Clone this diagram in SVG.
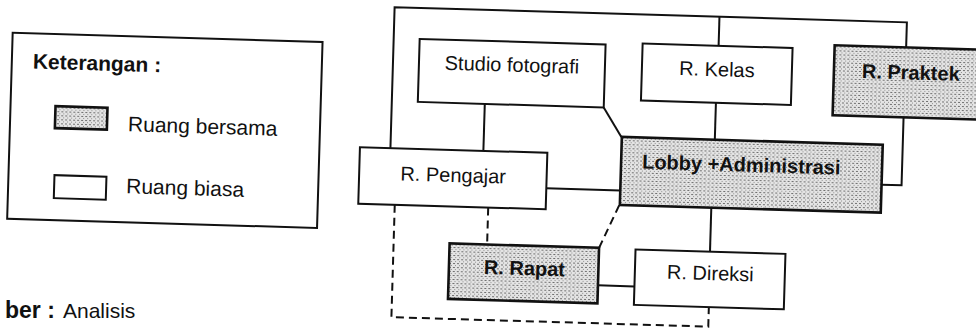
<svg xmlns="http://www.w3.org/2000/svg" width="976" height="329" viewBox="0 0 976 329">
<style>
  .box { fill: #ffffff; stroke: #111111; stroke-width: 2; }
  .shared { fill: url(#stipple); stroke: #111111; stroke-width: 2.6; }
  .line { fill: none; stroke: #111111; stroke-width: 2; }
  .dash { fill: none; stroke: #111111; stroke-width: 2; stroke-dasharray: 8 5; }
  .t { font-family: "Liberation Sans", Arial, sans-serif; font-size: 20px; fill: #111111; }
  .tb { font-family: "Liberation Sans", Arial, sans-serif; font-size: 20px; font-weight: bold; fill: #111111; }
  .lg { font-family: "Liberation Sans", Arial, sans-serif; font-size: 21px; fill: #111111; }
</style>
<defs>
  <pattern id="stipple" width="4" height="4" patternUnits="userSpaceOnUse">
    <rect width="4" height="4" fill="#e4e4e4"/>
    <rect x="0" y="0" width="2" height="1" fill="#6e6e6e"/>
    <rect x="2" y="2" width="1" height="1" fill="#8c8c8c"/>
  </pattern>
</defs>
<rect width="976" height="329" fill="#ffffff"/>
<g transform="rotate(1.7 488 164)">
  <g id="legend">
    <rect class="box" x="9" y="47" width="310" height="186"/>
    <text class="lg" x="30" y="82" font-weight="bold" font-size="21.5">Keterangan :</text>
    <rect class="shared" x="54" y="119" width="52" height="22" stroke-width="2.2"/>
    <text class="lg" x="127" y="142">Ruang bersama</text>
    <rect class="box" x="55" y="188" width="52" height="23"/>
    <text class="lg" x="127" y="204">Ruang biasa</text>
  </g>
  <g id="connectors">
    <path class="line" d="M390,151 V10 H902.5 V35"/>
    <path class="line" d="M715,10 V39"/>
    <path class="line" d="M902,105 V173 H882"/>
    <path class="line" d="M483,104 V151"/>
    <path class="line" d="M602,104 L620.5,133"/>
    <path class="line" d="M547,186.5 H621"/>
    <path class="line" d="M714,96 V133"/>
    <path class="line" d="M712.5,201 V245"/>
    <rect x="710.5" y="190" width="4" height="11" fill="#111111"/>
    <path class="line" d="M601.5,282 H638"/>
    <path class="dash" d="M396,207.5 V320 H713 V300.5"/>
    <path class="dash" d="M489.5,207.5 V244.5"/>
    <path class="dash" d="M601.5,244.5 L620.5,201"/>
  </g>
  <g id="studio-fotografi">
    <rect class="box" x="416" y="41" width="186" height="63"/>
    <text class="t" x="509" y="71" text-anchor="middle" font-size="20.5">Studio fotografi</text>
  </g>
  <g id="r-kelas">
    <rect class="box" x="639" y="39" width="150" height="57"/>
    <text class="t" x="714" y="69.5" text-anchor="middle" font-size="20.5">R. Kelas</text>
  </g>
  <g id="r-praktek">
    <rect class="shared" x="831" y="35" width="170" height="70"/>
    <text class="tb" x="859" y="67">R. Praktek</text>
  </g>
  <g id="r-pengajar">
    <rect class="box" x="359.5" y="151" width="187.5" height="56.5"/>
    <text class="t" x="453.5" y="183" text-anchor="middle">R. Pengajar</text>
  </g>
  <g id="lobby-administrasi">
    <rect class="shared" x="621" y="133" width="261" height="68"/>
    <text class="tb" x="642" y="164" font-size="21.5">Lobby +Administrasi</text>
  </g>
  <g id="r-rapat">
    <rect class="shared" x="452" y="244.5" width="149.5" height="55.5"/>
    <text class="tb" x="527.5" y="274" text-anchor="middle">R. Rapat</text>
  </g>
  <g id="r-direksi">
    <rect class="box" x="638" y="245" width="150" height="55.5"/>
    <text class="t" x="713.5" y="273.5" text-anchor="middle" font-size="20.5">R. Direksi</text>
  </g>
</g>
<text class="t" x="5" y="318"><tspan font-weight="bold" font-size="23">ber :</tspan><tspan x="63" font-size="21" font-weight="normal">Analisis</tspan></text>
</svg>
